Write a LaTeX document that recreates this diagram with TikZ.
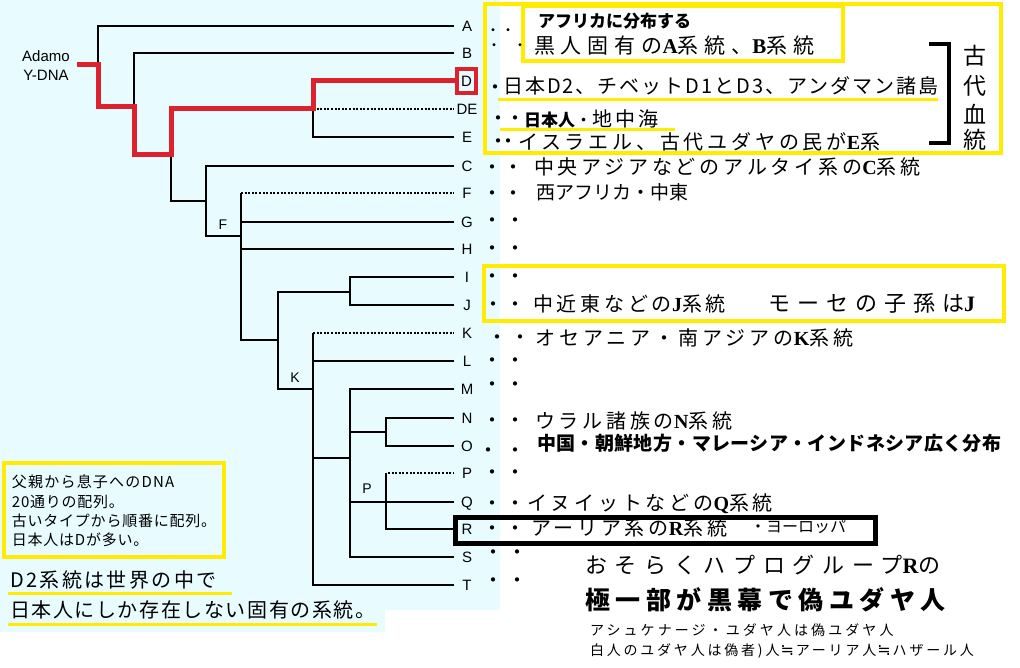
\documentclass[tikz,border=0pt]{standalone}
\usepackage{fontspec}
\setmainfont{Liberation Sans}
\newfontfamily\jp{Noto Sans CJK JP}
\newfontfamily\lsr{Liberation Serif}
\newfontfamily\dvs{DejaVu Sans}
\newcommand\LB[1]{{\lsr\bfseries #1}}
\newcommand\apx{\hspace{1pt}{\dvs\fontsize{16}{16}\selectfont ≒}\hspace{2pt}}
\newcommand\mcf[2]{\jp\fontsize{#1}{#1}\selectfont\addfontfeature{LetterSpace=#2}}
\newcommand\gf[1]{\jp\fontsize{#1}{#1}\selectfont}
\definecolor{bgc}{RGB}{232,252,255}
\definecolor{ylw}{RGB}{255,236,0}
\definecolor{rd}{RGB}{220,35,45}
\begin{document}
\begin{tikzpicture}[x=1pt,y=-1pt,
  tree/.style={line width=2pt,black},
  dotline/.style={line width=2pt,black,dash pattern=on 2pt off 1.6pt},
  redp/.style={line width=5pt,rd,line join=miter},
  lbl/.style={inner sep=0pt,outer sep=0pt,minimum width=26pt,text height=11pt,text depth=0pt,font=\fontsize{15}{15}\selectfont},
  small/.style={inner sep=0pt,font=\fontsize{14}{14}\selectfont},
  txt/.style={anchor=base west,inner sep=0pt,outer sep=0pt},
  ybox/.style={draw=ylw,line width=4pt},
  yline/.style={draw=ylw,line width=3pt}]
\useasboundingbox (0,0) rectangle (1020,668);
\fill[white] (0,0) rectangle (1020,668);
\fill[bgc] (0,0) -- (500,0) -- (500,610) -- (385,610) -- (385,632) -- (0,632) -- cycle;

% leaf labels
\node[lbl] (A) at (467,26) {A};
\node[lbl] (B) at (467,53) {B};
\node[lbl,minimum width=19pt,minimum height=24pt,draw=rd,line width=4pt,outer sep=2pt] (D) at (466.5,81) {D};
\node[lbl] (DE) at (467,109) {DE};
\node[lbl] (E) at (467,137) {E};
\node[lbl] (C) at (467,166) {C};
\node[lbl] (F) at (467,193) {F};
\node[lbl] (G) at (467,222) {G};
\node[lbl] (H) at (467,249) {H};
\node[lbl] (I) at (467,277) {I};
\node[lbl] (J) at (467,305) {J};
\node[lbl] (K) at (467,333) {K};
\node[lbl] (L) at (467,361) {L};
\node[lbl] (M) at (467,389) {M};
\node[lbl] (N) at (467,418) {N};
\node[lbl] (O) at (467,446) {O};
\node[lbl] (P) at (467,473) {P};
\node[lbl] (Q) at (467,502) {Q};
\node[lbl] (R) at (467,529) {R};
\node[lbl] (S) at (467,557) {S};
\node[lbl] (T) at (467,585) {T};

\node[inner sep=0pt,align=center,font=\fontsize{15}{19}\selectfont] (adamo) at (46,66) {Adamo\\Y-DNA};
\node[small] (labF) at (223,225) {F};
\node[small] (labK) at (295,378) {K};
\node[small] (labP) at (367,489) {P};

% junctions
\coordinate (r0) at (77,65);
\coordinate (j1) at (98,107);
\coordinate (j2) at (134,155);
\coordinate (j3) at (171,201);
\coordinate (jde) at (313,109);
\coordinate (jcf) at (206,236);
\coordinate (jf) at (241,340);
\coordinate (jik) at (278,389);
\coordinate (jij) at (350,292);
\coordinate (jk) at (313,389);
\coordinate (jms) at (350,458);
\coordinate (jno) at (386,432);
\coordinate (jpr) at (386,502);

% tree
\draw[tree] (A.west) -| (j1) -- (j1 -| j2);
\draw[tree] (B.west) -| (j2) -- (j2 -| j3);
\draw[tree] (jde) -- (jde -| j3) -- (j3) -- (j3 -| jcf);
\draw[tree] (D.west) -| (jde) |- (E.west);
\draw[dotline] (jde) -- (DE.west);
\draw[tree] (C.west) -| (jcf) -- (jcf -| jf);
\draw[tree] (jf |- F.west) -- (jf) -- (jf -| jik);
\draw[dotline] (jf |- F.west) -- (F.west);
\draw[tree] (G.west) -- (G.west -| jf);
\draw[tree] (H.west) -- (H.west -| jf);
\draw[tree] (I.west) -| (jij) |- (J.west);
\draw[tree] (jij) -| (jik) -- (jk);
\draw[tree] (jk |- K.west) -- (jk |- T.west) -- (T.west);
\draw[dotline] (jk |- K.west) -- (K.west);
\draw[tree] (L.west) -- (L.west -| jk);
\draw[tree] (jk |- jms) -- (jms);
\draw[tree] (M.west) -| (jms) |- (S.west);
\draw[tree] (N.west) -| (jno) |- (O.west);
\draw[tree] (jno) -- (jno -| jms);
\draw[tree] (Q.west) -- (Q.west -| jms);
\draw[tree] (jpr |- P.west) -- (jpr |- R.west) -- (R.west);
\draw[dotline] ([xshift=2pt]jpr |- P.west) -- (P.west);

% red path
\draw[redp] (r0) -| (j1) -| (j2) -| (jde -| j3) -- (jde) |- (D.west);

% boxes
\draw[ybox] (485,4) rectangle (1001,153);
\draw[ybox] (523,6) rectangle (843,61);
\draw[ybox] (484,266) rectangle (1004,321);
\draw[black,line width=5pt] (455,517) rectangle (875,543);
\draw[draw=ylw,line width=3.5pt] (4,463) rectangle (224,557);
\draw[black,line width=4pt] (929,44) -- (949,44) -- (949,143) -- (929,143);
\draw[yline] (498,100) -- (938,100);
\draw[yline] (500,130) -- (675,130);
\draw[yline] (8,593) -- (232,593);
\draw[yline] (8,624) -- (377,624);

% dots
\node[txt,font=\gf{14}] (dA) at (486,35.3) {・\hspace{1pt}・};
\node[txt,font=\gf{14}] (dB) at (487,50.3) {・\hspace{12pt}・};
\node[txt,font=\gf{20}] (dD) at (485,94.6) {・};
\node[txt,font=\gf{20}] (dDE) at (488,125.6) {・\hspace{-3pt}・};
\node[txt,font=\gf{20}] (dE) at (488,148.6) {・\hspace{-10pt}・};
\node[txt,font=\gf{20}] (dC) at (482,174.6) {・\hspace{1pt}・};
\node[txt,font=\gf{20}] (dF) at (482,200.6) {・\hspace{1pt}・};
\node[txt,font=\gf{20}] (dG) at (482,227.6) {・\hspace{3pt}・};
\node[txt,font=\gf{20}] (dH) at (482,255.6) {・\hspace{3pt}・};
\node[txt,font=\gf{20}] (dI) at (482,283.6) {・\hspace{3pt}・};
\node[txt,font=\gf{20}] (dJ) at (483,311.6) {・\hspace{2pt}・};
\node[txt,font=\gf{20}] (dK) at (487,344.6) {・\hspace{3pt}・};
\node[txt,font=\gf{20}] (dL) at (482,367.6) {・\hspace{3pt}・};
\node[txt,font=\gf{20}] (dM) at (482,391.6) {・\hspace{3pt}・};
\node[txt,font=\gf{20}] (dN) at (482,427.6) {・\hspace{3pt}・};
\node[txt,font=\gf{20}] (dO) at (478,457.6) {・\hspace{7pt}・};
\node[txt,font=\gf{20}] (dP) at (482,479.6) {・\hspace{3pt}・};
\node[txt,font=\gf{20}] (dQ) at (482,510.6) {・\hspace{3pt}・};
\node[txt,font=\gf{20}] (dR) at (482,535.6) {・\hspace{3pt}・};
\node[txt,font=\gf{20}] (dS) at (483,559.6) {・\hspace{4pt}・};
\node[txt,font=\gf{20}] (dT) at (483,587.6) {・\hspace{4pt}・};

% right texts
\node[txt,font=\gf{17}\bfseries] (tAfr) at (538,27.5) {アフリカに分布する};
\node[txt,font=\mcf{21}{28}] (tB) at (534,54) {黒人固有の\LB{A}系統、\LB{B}系統};
\node[txt,font=\mcf{20}{10}] (tD) at (503,93.6) {日本D2、チベットD1とD3、アンダマン諸島};
\node[txt] (tDE) at (524,127) {{\gf{17}\bfseries 日本人}{\gf{17}・}{\mcf{20}{16}地中海}};
\node[txt,font=\mcf{20}{19}] (tE) at (518,149.6) {イスラエル、古代ユダヤの民が\LB{E}系};
\node[txt,font=\mcf{20}{19}] (tC) at (534,174.6) {中央アジアなどのアルタイ系の\LB{C}系統};
\node[txt,font=\gf{19}] (tF) at (536,200) {西アフリカ・中東};
\node[txt,font=\mcf{20}{19}] (tJ) at (533,311.6) {中近東などの\LB{J}系統};
\node[txt,font=\mcf{22}{32}] (tJ2) at (768,311.6) {モーセの子孫は\LB{J}};
\node[txt,font=\mcf{20}{20}] (tK) at (535,345.6) {オセアニア・南アジアの\LB{K}系統};
\node[txt,font=\mcf{20}{19}] (tN) at (535,428.6) {ウラル諸族の\LB{N}系統};
\node[txt,font=\gf{19}\bfseries\addfontfeature{LetterSpace=2}] (tO) at (537,450.2) {中国・朝鮮地方・マレーシア・インドネシア広く分布};
\node[txt,font=\mcf{20}{19}] (tQ) at (527,510.6) {イヌイットなどの\LB{Q}系統};
\node[txt,font=\mcf{20}{19}] (tR) at (531,535.6) {アーリア系の\LB{R}系統};
\node[txt,font=\gf{16}] (tR2) at (750,532) {・ヨーロッパ};

% vertical text
\node[inner sep=0pt,font=\gf{23}] (k1) at (975,56) {古};
\node[inner sep=0pt,font=\gf{23}] (k2) at (975,86) {代};
\node[inner sep=0pt,font=\gf{23}] (k3) at (975,114) {血};
\node[inner sep=0pt,font=\gf{23}] (k4) at (975,140) {統};

% bottom right
\node[txt,font=\mcf{22}{35}] (b1) at (585,573.4) {おそらくハプログループ\LB{R}の};
\node[txt,font=\mcf{25}{22}\bfseries] (b2) at (585,609.5) {極一部が黒幕で偽ユダヤ人};
\node[txt,font=\mcf{14}{22}] (b3) at (590,635.3) {アシュケナージ・ユダヤ人は偽ユダヤ人};
\node[txt,font=\mcf{14}{20}] (b4) at (590,655.3) {白人のユダヤ人は偽者)人\apx アーリア人\apx ハザール人};

% bottom left
\node[txt,font=\mcf{15}{8}] (l1) at (12,487.7) {父親から息子へのDNA};
\node[txt,font=\mcf{15}{5}] (l2) at (12,507.7) {20通りの配列。};
\node[txt,font=\mcf{15}{5}] (l3) at (12,526.7) {古いタイプから順番に配列。};
\node[txt,font=\mcf{15}{5}] (l4) at (12,545.7) {日本人はDが多い。};
\node[txt,font=\mcf{20}{12}] (l5) at (10,587.6) {D2系統は世界の中で};
\node[txt,font=\mcf{20}{8}] (l6) at (10,617.6) {日本人にしか存在しない固有の系統。};
\end{tikzpicture}
\end{document}
